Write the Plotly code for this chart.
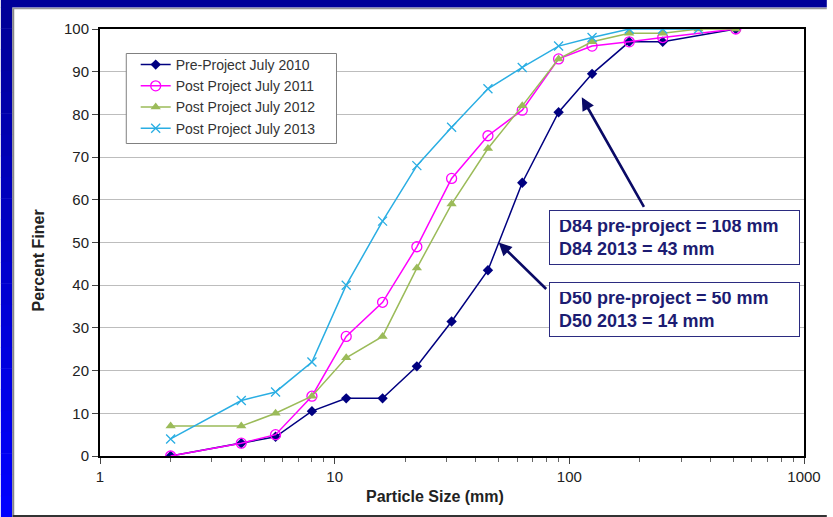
import math
import plotly.graph_objects as go

# ---------------- data ----------------
sizes_pre = [2, 4, 5.6, 8, 11.2, 16, 22.4, 31.5, 45, 63, 90, 125, 180, 250, 512]
pre_2010 = [0, 3, 4.5, 10.5, 13.5, 13.5, 21, 31.5, 43.5, 64, 80.5, 89.5, 97, 97, 100]

sizes_2011 = [2, 4, 5.6, 8, 11.2, 16, 22.4, 31.5, 45, 63, 90, 125, 180, 250, 512]
post_2011 = [0, 3, 5, 14, 28, 36, 49, 65, 75, 81, 93, 96, 97, 98, 100]

sizes_2012 = [2, 4, 5.6, 8, 11.2, 16, 22.4, 31.5, 45, 63, 90, 125, 180, 250, 355, 512]
post_2012 = [7, 7, 10, 14, 23, 28, 44, 59, 72, 82, 93, 97, 99, 99, 100, 100]

sizes_2013 = [2, 4, 5.6, 8, 11.2, 16, 22.4, 31.5, 45, 63, 90, 125, 180, 250, 355]
post_2013 = [4, 13, 15, 22, 40, 55, 68, 77, 86, 91, 96, 98, 100, 100, 100]

series_names = ["Pre-Project July 2010", "Post Project July 2011",
                "Post Project July 2012", "Post Project July 2013"]

x_tickvals = [1, 10, 100, 1000]
y_tickvals = list(range(0, 101, 10))

x_title = "Particle Size (mm)"
y_title = "Percent Finer"

# ---------------- layout geometry ----------------
W, H = 833, 517
L, R, T, B = 100, 23, 29, 61
PW, PH = W - L - R, H - T - B


def px(x):
    return (x - L) / PW


def py(y):
    return (H - B - y) / PH


NAVY = "#000080"
MAG = "#FF00FF"
GRN = "#9BBB59"
CYN = "#2AAEE3"
TXT = "#1C1C72"

fig = go.Figure()
fig.add_trace(go.Scatter(x=sizes_pre, y=pre_2010, name=series_names[0], mode="lines+markers",
                         line=dict(color=NAVY, width=1.5),
                         marker=dict(symbol="diamond", size=8, color=NAVY)))
fig.add_trace(go.Scatter(x=sizes_2011, y=post_2011, name=series_names[1], mode="lines+markers",
                         line=dict(color=MAG, width=1.5),
                         marker=dict(symbol="circle-open", size=10, color=MAG, line=dict(width=1.3))))
fig.add_trace(go.Scatter(x=sizes_2012, y=post_2012, name=series_names[2], mode="lines+markers",
                         line=dict(color=GRN, width=1.5),
                         marker=dict(symbol="triangle-up", size=9, color=GRN)))
fig.add_trace(go.Scatter(x=sizes_2013, y=post_2013, name=series_names[3], mode="lines+markers",
                         line=dict(color=CYN, width=1.5),
                         marker=dict(symbol="x-thin-open", size=9, color=CYN, line=dict(width=1.3, color=CYN))))

shapes = []
# outer slide frame: navy top band, blue gradient left bar
shapes.append(dict(type="rect", xref="paper", yref="paper", x0=px(0), x1=px(W), y0=py(7.5), y1=py(0),
                   fillcolor="#000099", line=dict(width=0), layer="below"))
n = 24
for i in range(n):
    y0p = 7 + (H - 7) * i / n
    y1p = 7 + (H - 7) * (i + 1) / n
    f = i / (n - 1)
    b = int(0x99 + (0xFF - 0x99) * f)
    shapes.append(dict(type="rect", xref="paper", yref="paper", x0=px(0), x1=px(11.5),
                       y0=py(y1p + 0.5), y1=py(y0p), fillcolor="#0000%02X" % b,
                       line=dict(width=0), layer="below"))
# gray frame lines
shapes.append(dict(type="line", xref="paper", yref="paper", x0=px(12.5), x1=px(12.5), y0=py(8), y1=py(H),
                   line=dict(color="#888888", width=2), layer="below"))
shapes.append(dict(type="line", xref="paper", yref="paper", x0=px(12), x1=px(W), y0=py(8.5), y1=py(8.5),
                   line=dict(color="#999999", width=1.5), layer="below"))
shapes.append(dict(type="line", xref="paper", yref="paper", x0=px(12), x1=px(W), y0=py(516), y1=py(516),
                   line=dict(color="#333333", width=2), layer="below"))
# legend frame
shapes.append(dict(type="rect", xref="paper", yref="paper", x0=px(126.5), x1=px(338.5), y0=py(143.5), y1=py(53.5),
                   fillcolor="white", line=dict(color="#808080", width=1), layer="above"))

annotations = []
box_common = dict(xref="paper", yref="paper", xanchor="left", yanchor="top", showarrow=False,
                  align="left", bgcolor="white", bordercolor="#2B2B80", borderwidth=1,
                  borderpad=9, width=231, height=35,
                  font=dict(family="Liberation Sans, Arial, sans-serif", size=18, color=TXT))
annotations.append(dict(x=px(553), y=py(210),
                        text="<b>D84 pre-project = 108 mm<br>D84 2013 = 43 mm</b>", **box_common))
annotations.append(dict(x=px(553), y=py(282),
                        text="<b>D50 pre-project = 50 mm<br>D50 2013 = 14 mm</b>", **box_common))
arrow_common = dict(xref="x", yref="y", showarrow=True, arrowhead=2, arrowsize=1.0,
                    arrowwidth=2.6, arrowcolor="#0A0A66", text="", axref="pixel", ayref="pixel")
annotations.append(dict(x=math.log10(113), y=84, ax=63, ay=111, **arrow_common))
annotations.append(dict(x=math.log10(50), y=50, ax=49, ay=48, **arrow_common))
# axis titles (placed as in the original chart, slightly off-centre)
annotations.append(dict(xref="paper", yref="paper", x=px(438), y=py(496), xanchor="center", yanchor="middle",
                        showarrow=False, text="<b>%s</b>" % x_title,
                        font=dict(size=16, color="#222222")))
annotations.append(dict(xref="paper", yref="paper", x=px(37), y=py(261), xanchor="center", yanchor="middle",
                        showarrow=False, text="<b>%s</b>" % y_title, textangle=-90,
                        font=dict(size=16, color="#222222")))

fig.update_layout(
    width=W, height=H,
    margin=dict(l=L, r=R, t=T, b=B),
    paper_bgcolor="white", plot_bgcolor="white",
    font=dict(family="Liberation Sans, Arial, sans-serif", size=15, color="#222222"),
    shapes=shapes, annotations=annotations,
    showlegend=True,
    legend=dict(x=px(136), y=py(49), xanchor="left", yanchor="top",
                bgcolor="rgba(0,0,0,0)", borderwidth=0,
                font=dict(size=14, color="#333333"), tracegroupgap=0,
                itemwidth=30),
    xaxis=dict(type="log", range=[0, 3], tickvals=x_tickvals, ticktext=[str(v) for v in x_tickvals],
               showgrid=False, zeroline=False,
               showline=True, linecolor="black", linewidth=2, mirror=True,
               ticks="outside", ticklen=6, tickcolor="#444444", tickwidth=1,
               minor=dict(ticks="outside", ticklen=4, tickcolor="#666666", tickwidth=1,
                          dtick="D1", showgrid=False)),
    yaxis=dict(range=[0, 100], tickvals=y_tickvals,
               showgrid=True, gridcolor="#BDBDBD", gridwidth=1, zeroline=False,
               showline=True, linecolor="black", linewidth=2, mirror=True,
               ticks="outside", ticklen=6, tickcolor="#444444"),
)

fig.write_html("out.html")
